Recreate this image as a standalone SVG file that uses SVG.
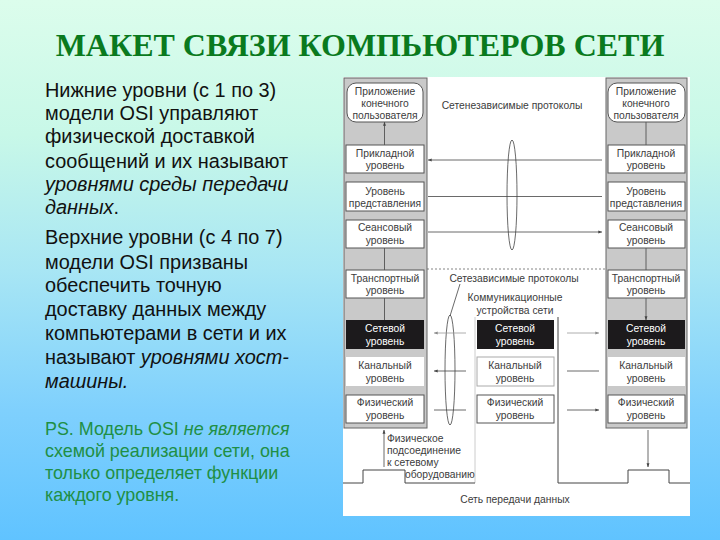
<svg xmlns="http://www.w3.org/2000/svg" width="720" height="540" viewBox="0 0 720 540">
<style>
.t{font-family:"Liberation Sans",Arial,sans-serif;font-size:19.9px;fill:#111}
.ps{font-family:"Liberation Sans",Arial,sans-serif;font-size:17.9px;fill:#1f8f45}
.l{font-family:"Liberation Sans",Arial,sans-serif;font-size:10.3px;fill:#3c3c3c;text-anchor:middle}
.s{text-anchor:start}
.i{fill:#fff}
.w{fill:#fff}
.b{fill:#fff;stroke:#555;stroke-width:1}
.d{fill:#1c1a1c}
.c{stroke:#444;stroke-width:.8;fill:none}
.g{stroke:#999;stroke-width:.8;fill:none}
</style>
<defs>
<linearGradient id="bg" x1="0" y1="0" x2="0" y2="1">
<stop offset="0" stop-color="#dcfdec"/><stop offset=".25" stop-color="#c8f8e8"/><stop offset=".5" stop-color="#a8e6f4"/><stop offset=".76" stop-color="#7fd0fd"/><stop offset="1" stop-color="#60c3ff"/>
</linearGradient>
<marker id="a" viewBox="0 0 6 6" refX="5.5" refY="3" markerWidth="5" markerHeight="5" orient="auto-start-reverse"><path d="M0 .8L6 3L0 5.2z" fill="#444"/></marker>
<marker id="e" viewBox="0 0 6 6" refX="5.5" refY="3" markerWidth="5" markerHeight="5" orient="auto-start-reverse"><path d="M0 .8L6 3L0 5.2z" fill="#888"/></marker>
</defs>
<rect width="720" height="540" fill="url(#bg)"/>
<text x="360" y="56" text-anchor="middle" style="font-family:'Liberation Serif',serif;font-weight:bold;font-size:32px;fill:#0a7a1e">МАКЕТ СВЯЗИ КОМПЬЮТЕРОВ СЕТИ</text>
<g id="text-lower">
<text class="t" x="45" y="97">Нижние уровни (с 1 по 3)</text>
<text class="t" x="45" y="120">модели OSI управляют</text>
<text class="t" x="45" y="143">физической доставкой</text>
<text class="t" x="45" y="168">сообщений и их называют</text>
<text class="t" x="45" y="191" font-style="italic">уровнями среды передачи</text>
<text class="t" x="45" y="214"><tspan font-style="italic">данных</tspan>.</text>
</g>
<g id="text-upper">
<text class="t" x="45" y="244">Верхние уровни (с 4 по 7)</text>
<text class="t" x="45" y="269">модели OSI призваны</text>
<text class="t" x="45" y="292">обеспечить точную</text>
<text class="t" x="45" y="316">доставку данных между</text>
<text class="t" x="45" y="340">компьютерами в сети и их</text>
<text class="t" x="45" y="364">называют <tspan font-style="italic">уровнями хост-</tspan></text>
<text class="t" x="45" y="388" font-style="italic">машины.</text>
</g>
<g id="text-ps">
<text class="ps" x="45" y="435">PS. Модель OSI <tspan font-style="italic">не является</tspan></text>
<text class="ps" x="45" y="457">схемой реализации сети, она</text>
<text class="ps" x="45" y="479">только определяет функции</text>
<text class="ps" x="45" y="501">каждого уровня.</text>
</g>
<rect id="panel" x="343" y="77" width="347" height="439" fill="#fff"/>
<g id="stack-left-bg"><rect x="344" y="78" width="83" height="350" fill="#c9c9c9" stroke="#666"/></g>
<g id="stack-right-bg"><rect x="606" y="78" width="81" height="350" fill="#c9c9c9" stroke="#666"/></g>
<g id="connectors">
<path class="c" d="M384.500 122V145M384.500 248V270M384.500 298V320M646 122V145M646 248V270M646 298V320" marker-start="url(#a)" marker-end="url(#a)"/>
<path class="c" d="M428 160H602M428 196.500H602M428 232H602" marker-start="url(#a)" marker-end="url(#a)"/>
<path d="M427 269H606" stroke="#666" stroke-width=".8" stroke-dasharray="2 2" fill="none"/>
<ellipse class="c" cx="512" cy="195" rx="5" ry="55"/>
<ellipse class="c" cx="450" cy="370" rx="5" ry="55"/>
<path class="c" d="M450 316L460 284"/>
<path class="g" d="M434 333H466M567 333H599" marker-start="url(#e)" marker-end="url(#e)"/>
<path class="c" d="M434 371H466M567 371H599M434 410H466M567 410H599" marker-start="url(#a)" marker-end="url(#a)"/>
<path class="c" d="M384 430V467M648 430V467" marker-start="url(#a)" marker-end="url(#a)"/>
<path d="M475 317V483" stroke="#ccc" fill="none"/>
<path d="M558 317V483" stroke="#444" fill="none"/>
<path d="M343 483H363V470H405V483H475M558 483H628V470H669V483H690" stroke="#444" fill="none"/>
</g>
<g id="n-app-l"><rect class="b" x="347" y="83" width="76" height="39" rx="9"/><text class="l" x="385" y="94.500">Приложение</text><text class="l" x="385" y="106.500">конечного</text><text class="l" x="385" y="118.500">пользователя</text></g>
<g id="n-app-r"><rect class="b" x="608" y="83" width="77" height="39" rx="9"/><text class="l" x="646" y="94.500">Приложение</text><text class="l" x="646" y="106.500">конечного</text><text class="l" x="646" y="118.500">пользователя</text></g>
<g id="n-7-l"><rect class="b" x="346" y="145" width="78" height="28"/><text class="l" x="385" y="157">Прикладной</text><text class="l" x="385" y="169">уровень</text></g>
<g id="n-6-l"><rect class="b" x="346" y="182" width="78" height="29"/><text class="l" x="385" y="195">Уровень</text><text class="l" x="385" y="207">представления</text></g>
<g id="n-5-l"><rect class="b" x="346" y="220" width="78" height="28"/><text class="l" x="385" y="231">Сеансовый</text><text class="l" x="385" y="243.500">уровень</text></g>
<g id="n-4-l"><rect class="b" x="346" y="270" width="78" height="28"/><text class="l" x="385" y="282">Транспортный</text><text class="l" x="385" y="294">уровень</text></g>
<g id="n-3-l"><rect class="d" x="346" y="320" width="78" height="29"/><text class="l i" x="385" y="332">Сетевой</text><text class="l i" x="385" y="345">уровень</text></g>
<g id="n-2-l"><rect class="w" x="346" y="357" width="78" height="29"/><text class="l" x="385" y="369">Канальный</text><text class="l" x="385" y="382">уровень</text></g>
<g id="n-1-l"><rect class="b" x="346" y="395" width="78" height="28"/><text class="l" x="385" y="406">Физический</text><text class="l" x="385" y="419">уровень</text></g>
<g id="n-7-r"><rect class="b" x="608" y="145" width="77" height="28"/><text class="l" x="646" y="157">Прикладной</text><text class="l" x="646" y="169">уровень</text></g>
<g id="n-6-r"><rect class="b" x="608" y="182" width="77" height="29"/><text class="l" x="646" y="195">Уровень</text><text class="l" x="646" y="207">представления</text></g>
<g id="n-5-r"><rect class="b" x="608" y="220" width="77" height="28"/><text class="l" x="646" y="231">Сеансовый</text><text class="l" x="646" y="243.500">уровень</text></g>
<g id="n-4-r"><rect class="b" x="608" y="270" width="77" height="28"/><text class="l" x="646" y="282">Транспортный</text><text class="l" x="646" y="294">уровень</text></g>
<g id="n-3-r"><rect class="d" x="608" y="320" width="77" height="29"/><text class="l i" x="646" y="332">Сетевой</text><text class="l i" x="646" y="345">уровень</text></g>
<g id="n-2-r"><rect class="w" x="608" y="357" width="77" height="29"/><text class="l" x="646" y="369">Канальный</text><text class="l" x="646" y="382">уровень</text></g>
<g id="n-1-r"><rect class="b" x="608" y="395" width="77" height="28"/><text class="l" x="646" y="406">Физический</text><text class="l" x="646" y="419">уровень</text></g>
<g id="n-3-m"><rect class="d" x="477" y="320" width="77" height="29"/><text class="l i" x="515" y="332">Сетевой</text><text class="l i" x="515" y="345">уровень</text></g>
<g id="n-2-m"><rect x="477" y="357" width="77" height="29" fill="#fff" stroke="#aaa"/><text class="l" x="515" y="369">Канальный</text><text class="l" x="515" y="382">уровень</text></g>
<g id="n-1-m"><rect class="b" x="477" y="395" width="77" height="28"/><text class="l" x="515" y="406">Физический</text><text class="l" x="515" y="419">уровень</text></g>
<g id="labels">
<text class="l" x="512" y="109">Сетенезависимые протоколы</text>
<text class="l" x="514" y="282">Сетезависимые протоколы</text>
<text class="l" x="515" y="301">Коммуникационные</text>
<text class="l" x="515" y="313.500">устройства сети</text>
<text class="l s" x="387" y="442">Физическое</text>
<text class="l s" x="387" y="454">подсоединение</text>
<text class="l s" x="387" y="466">к сетевому</text>
<text class="l s" x="405" y="478">оборудованию</text>
<text class="l" x="515" y="503">Сеть передачи данных</text>
</g>
</svg>
